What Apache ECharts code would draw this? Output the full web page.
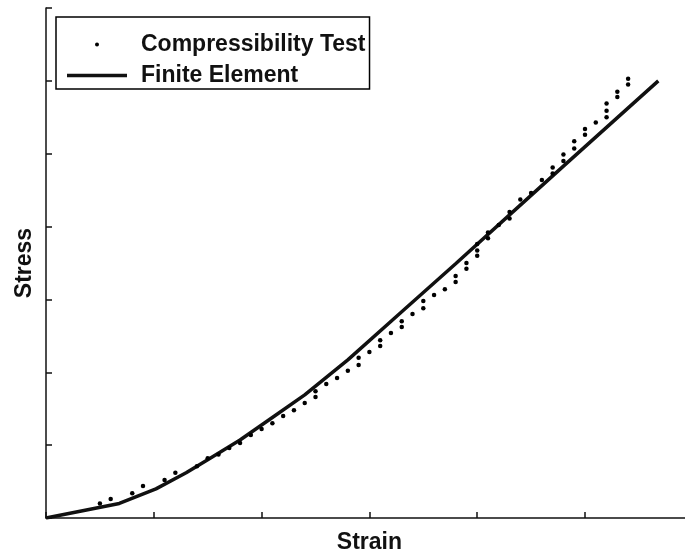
<!DOCTYPE html>
<html>
<head>
<meta charset="utf-8">
<script src="https://cdn.jsdelivr.net/npm/echarts@6/dist/echarts.min.js"></script>
<style>
  html, body { margin: 0; padding: 0; background: #fff; }
  #chart { width: 685px; height: 555px; }
</style>
</head>
<body>
<div id="chart"></div>
<script>
// Compressibility test (scatter) data
const testStrain = [0.5,0.6,0.8,0.9,1.1,1.2,1.4,1.5,1.6,1.7,1.8,1.9,2.0,2.1,2.2,2.3,2.4,2.5,2.5,2.6,2.7,2.8,2.9,2.9,3.0,3.1,3.1,3.2,3.3,3.3,3.4,3.5,3.5,3.6,3.7,3.8,3.8,3.9,3.9,4.0,4.0,4.0,4.1,4.1,4.2,4.3,4.3,4.4,4.5,4.6,4.7,4.7,4.8,4.8,4.9,4.9,5.0,5.0,5.1,5.2,5.2,5.2,5.3,5.3,5.4,5.4];
const testStress = [0.20,0.26,0.34,0.44,0.52,0.62,0.71,0.82,0.87,0.96,1.03,1.14,1.22,1.30,1.40,1.48,1.58,1.66,1.74,1.84,1.92,2.02,2.10,2.20,2.28,2.36,2.44,2.54,2.62,2.70,2.80,2.88,2.98,3.06,3.14,3.24,3.32,3.42,3.50,3.60,3.67,3.76,3.84,3.92,4.02,4.11,4.20,4.37,4.46,4.64,4.73,4.81,4.90,4.99,5.07,5.17,5.26,5.34,5.43,5.50,5.59,5.69,5.78,5.85,5.95,6.03];

// Finite element (line) data
const feStrain = [0,0.68,1.02,1.30,1.50,1.80,2.10,2.40,2.80,3.30,3.80,4.30,4.80,5.68];
const feStress = [0,0.20,0.40,0.62,0.80,1.07,1.38,1.69,2.17,2.83,3.49,4.16,4.83,6.00];

const seriesNames = ['Compressibility Test', 'Finite Element'];
const xName = 'Strain';
const yName = 'Stress';

const FONT = "'Liberation Sans', Arial, Helvetica, sans-serif";
const INK = '#111111';

const testData = testStrain.map((x, i) => [x, testStress[i]]);
const feData = feStrain.map((x, i) => [x, feStress[i]]);

const axisCommon = {
  type: 'value',
  min: 0,
  interval: 1,
  axisLine: { show: true, lineStyle: { color: INK, width: 1.5 } },
  axisTick: { show: true, inside: true, length: 6, lineStyle: { color: INK, width: 1.5 } },
  axisLabel: { show: false },
  splitLine: { show: false },
  nameLocation: 'middle',
  nameTextStyle: { fontSize: 23, fontWeight: 'bold', color: INK, fontFamily: FONT }
};

const chart = echarts.init(document.getElementById('chart'), null, { renderer: 'canvas' });
chart.setOption({
  animation: false,
  backgroundColor: '#fff',
  grid: { left: 46, right: -7.8, top: 8, bottom: 37, containLabel: false, outerBoundsMode: 'none' },
  xAxis: Object.assign({}, axisCommon, { max: 6, name: xName, nameGap: 13 }),
  yAxis: Object.assign({}, axisCommon, { max: 7, name: yName, nameGap: 10 }),
  legend: {
    data: [
      { name: seriesNames[0], icon: 'circle' },
      { name: seriesNames[1], icon: 'path://M0,0H120V7H0Z' }
    ],
    orient: 'vertical',
    left: 56,
    top: 17,
    padding: [16, 4, 2, 11],
    itemWidth: 60,
    itemHeight: 4,
    itemGap: 8,
    selectedMode: false,
    borderColor: '#000',
    borderWidth: 1.5,
    backgroundColor: '#fff',
    textStyle: { fontSize: 23, fontWeight: 'bold', color: INK, fontFamily: FONT, lineHeight: 6, padding: [0, 0, 14, 9] }
  },
  series: [
    {
      name: seriesNames[1],
      type: 'line',
      data: feData,
      symbol: 'none',
      showSymbol: false,
      lineStyle: { color: INK, width: 3.5 },
      itemStyle: { color: INK },
      z: 2
    },
    {
      name: seriesNames[0],
      type: 'scatter',
      data: testData,
      symbol: 'circle',
      symbolSize: 4.5,
      itemStyle: { color: '#000', opacity: 1 },
      z: 3
    }
  ]
});
</script>
</body>
</html>
